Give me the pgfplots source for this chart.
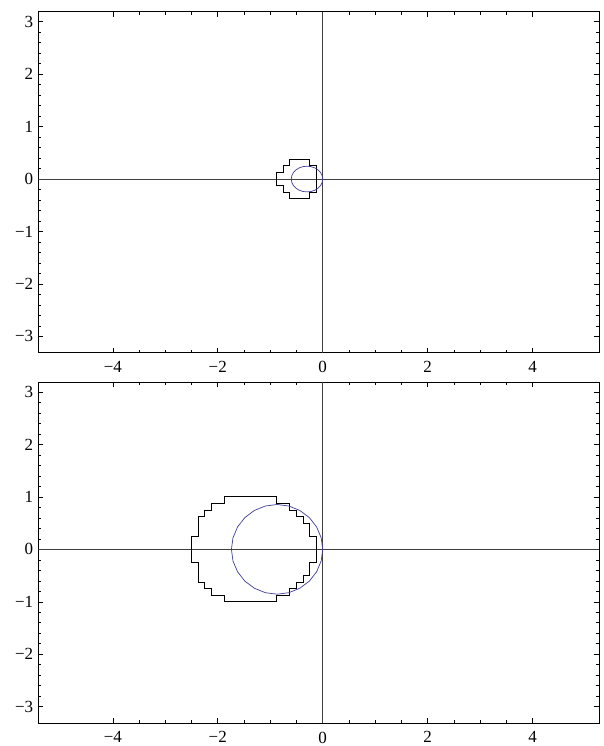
\documentclass[border=0pt]{standalone}
\usepackage{fontspec}
\setmainfont{Liberation Serif}
\usepackage{pgfplots}
\pgfplotsset{compat=1.18}
\definecolor{mblue}{rgb}{0.24,0.24,0.6}
\definecolor{axgray}{gray}{0.25}
\newcommand{\tl}{\fontsize{17}{20}\selectfont}
\pgfplotsset{
  panel/.style={
    scale only axis, width=561pt, height=341pt,
    xmin=-5.42, xmax=5.27, ymin=-3.31, ymax=3.19,
    xtick={-4,-2,0,2,4}, xticklabels={{\tl −4},{\tl −2},{\tl 0},{\tl 2},{\tl 4}},
    ytick={-3,-2,-1,0,1,2,3}, yticklabels={{\tl −3},{\tl −2},{\tl −1},{\tl 0},{\tl 1},{\tl 2},{\tl 3}},
    minor x tick num=3, minor y tick num=4,
    tick align=inside, major tick length=5pt, minor tick length=3pt,
    tick style={black, line width=0.6pt},
    axis line style={line width=0.9pt},
    tick label style={font=\tl, inner sep=2pt},
    anchor=south west,
  }
}
\begin{document}
\begin{tikzpicture}
\useasboundingbox (-38.3pt,-23pt) rectangle (564.7pt,723pt);
% ---------- top panel ----------
\begin{axis}[panel, at={(0pt,370.3pt)}, xticklabel style={yshift=-6pt}, yticklabel style={xshift=-3pt}]
\addplot[axgray, line width=0.9pt] coordinates {(-5.42,0) (5.27,0)};
\addplot[axgray, line width=0.9pt] coordinates {(0,-3.31) (0,3.19)};
\addplot[black, line width=0.9pt] coordinates {
(-0.625,0.375) (-0.25,0.375) (-0.25,0.25) (-0.125,0.25) (-0.125,-0.25) (-0.25,-0.25)
(-0.25,-0.375) (-0.625,-0.375) (-0.625,-0.25) (-0.75,-0.25) (-0.75,-0.125) (-0.875,-0.125)
(-0.875,0.125) (-0.75,0.125) (-0.75,0.25) (-0.625,0.25) (-0.625,0.375)};
\addplot[mblue, line width=0.7pt] coordinates {
(0,0) (-0.0102,0.0634) (-0.0402,0.1225) (-0.0879,0.1732) (-0.15,0.2122) (-0.2224,0.2367)
(-0.3,0.245) (-0.3776,0.2367) (-0.45,0.2122) (-0.5121,0.1732) (-0.5598,0.1225) (-0.5898,0.0634)
(-0.6,0) (-0.5898,-0.0634) (-0.5598,-0.1225) (-0.5121,-0.1732) (-0.45,-0.2122) (-0.3776,-0.2367)
(-0.3,-0.245) (-0.2224,-0.2367) (-0.15,-0.2122) (-0.0879,-0.1732) (-0.0402,-0.1225) (-0.0102,-0.0634) (0,0)};
\end{axis}
% ---------- bottom panel ----------
\begin{axis}[panel, at={(0pt,0pt)}, xticklabel style={yshift=-6.5pt}, yticklabel style={xshift=-3pt}]
\addplot[axgray, line width=0.9pt] coordinates {(-5.42,0) (5.27,0)};
\addplot[axgray, line width=0.9pt] coordinates {(0,-3.31) (0,3.19)};
\addplot[black, line width=0.9pt] coordinates {
(-1.875,1) (-0.875,1) (-0.875,0.875) (-0.625,0.875) (-0.625,0.75) (-0.5,0.75) (-0.5,0.625)
(-0.375,0.625) (-0.375,0.5) (-0.25,0.5) (-0.25,0.25) (-0.125,0.25) (-0.125,-0.25) (-0.25,-0.25)
(-0.25,-0.5) (-0.375,-0.5) (-0.375,-0.625) (-0.5,-0.625) (-0.5,-0.75) (-0.625,-0.75)
(-0.625,-0.875) (-0.875,-0.875) (-0.875,-1) (-1.875,-1) (-1.875,-0.875) (-2.125,-0.875)
(-2.125,-0.75) (-2.25,-0.75) (-2.25,-0.625) (-2.375,-0.625) (-2.375,-0.25) (-2.5,-0.25)
(-2.5,0.25) (-2.375,0.25) (-2.375,0.625) (-2.25,0.625) (-2.25,0.75) (-2.125,0.75)
(-2.125,0.875) (-1.875,0.875) (-1.875,1)};
\addplot[mblue, line width=0.7pt] coordinates {
(0,0) (-0.0297,0.2213) (-0.1166,0.4275) (-0.2548,0.6046) (-0.435,0.7404) (-0.6448,0.8259)
(-0.87,0.855) (-1.0952,0.8259) (-1.305,0.7404) (-1.4852,0.6046) (-1.6234,0.4275) (-1.7103,0.2213)
(-1.74,0) (-1.7103,-0.2213) (-1.6234,-0.4275) (-1.4852,-0.6046) (-1.305,-0.7404) (-1.0952,-0.8259)
(-0.87,-0.855) (-0.6448,-0.8259) (-0.435,-0.7404) (-0.2548,-0.6046) (-0.1166,-0.4275) (-0.0297,-0.2213) (0,0)};
\end{axis}
\end{tikzpicture}
\end{document}
